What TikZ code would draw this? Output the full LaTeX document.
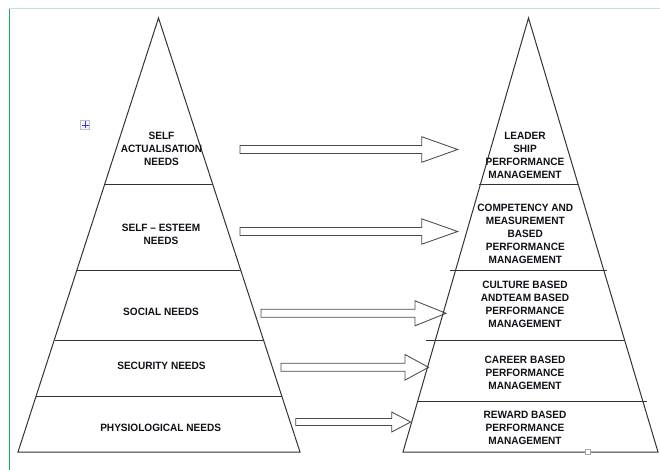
\documentclass[tikz,border=0pt]{standalone}
\usepackage{fontspec}
\setmainfont{Liberation Sans}
\newfontfamily\lblfont{Liberation Sans}[FakeStretch=0.95]
\definecolor{edgegray}{HTML}{333333}
\definecolor{arrowgray}{HTML}{4A4A4A}
\definecolor{topgreen}{HTML}{B4EBD2}
\definecolor{leftgreen}{HTML}{1FAA5C}
\definecolor{txt}{HTML}{101018}
\tikzset{
  pyr/.style={draw=edgegray, line width=1pt, line join=miter},
  divider/.style={draw=edgegray, line width=1pt},
  blockarrowstyle/.style={draw=arrowgray, line width=0.85pt, fill=white, line join=miter},
  label/.style={font=\lblfont\bfseries\fontsize{10.6}{13}\selectfont, text=txt, align=center, inner sep=0pt}
}
\newcommand\blockarrow[6]{%
  \draw[blockarrowstyle] (#1,#3-#6) -- (#2-#4,#3-#6) -- (#2-#4,#3-#5) -- (#2,#3)
    -- (#2-#4,#3+#5) -- (#2-#4,#3+#6) -- (#1,#3+#6) -- cycle;}
\begin{document}
\begin{tikzpicture}[x=1pt,y=-1pt]
\useasboundingbox[fill=white] (0,0) rectangle (660,470);
% page frame lines
\draw[topgreen, line width=1pt] (9,9) -- (660,9);
\draw[leftgreen, line width=1pt] (9,9) -- (9,470);

% arrows
\blockarrow{240}{457.7}{149.5}{36}{12.8}{4}
\blockarrow{240}{457.7}{231.5}{36}{12.7}{4}
\blockarrow{261}{446}{313.3}{31}{12.5}{4}
\blockarrow{281}{428.5}{367.3}{23.5}{12.8}{4}
\blockarrow{295.7}{410.7}{422}{19}{10}{3.5}

% left pyramid
\coordinate (LA) at (158.5,18);
\coordinate (LL) at (18,452);
\coordinate (LR) at (300,452);
\draw[pyr] (LL) -- (LA) -- (LR) -- cycle;
\draw[divider] (104.5,185) -- (213,185);
\draw[divider] (77,270.7) -- (240.5,270.7);
\draw[divider] (54.5,340) -- (263.5,340);
\draw[divider] (36,396) -- (282,396);

% right pyramid
\coordinate (RA) at (528.5,18);
\coordinate (RL) at (403,452);
\coordinate (RR) at (658,452);
\draw[pyr] (RL) -- (RA) -- (RR) -- cycle;
\draw[divider] (479,185) -- (577.5,185);
\draw[divider] (450,270.7) -- (607,270.7);
\draw[divider] (426,340) -- (625,340);
\draw[divider] (416.5,401) -- (647,401);

% left labels
\node[label] (l1) at (161.5,149) {SELF\\ACTUALISATION\\NEEDS};
\node[label] (l2) at (161,234) {SELF – ESTEEM\\NEEDS};
\node[label] (l3) at (161,312.3) {SOCIAL NEEDS};
\node[label] (l4) at (161.5,366) {SECURITY NEEDS};
\node[label] (l5) at (160.7,427.7) {PHYSIOLOGICAL NEEDS};

% right labels
\node[label] (r1) at (525,155.5) {LEADER\\SHIP\\PERFORMANCE\\MANAGEMENT};
\node[label] (r2) at (525.3,233.5) {COMPETENCY AND\\MEASUREMENT\\BASED\\PERFORMANCE\\MANAGEMENT};
\node[label] (r3) at (525,304.7) {CULTURE BASED\\ANDTEAM BASED\\PERFORMANCE\\MANAGEMENT};
\node[label] (r4) at (525,373.2) {CAREER BASED\\PERFORMANCE\\MANAGEMENT};
\node[label] (r5) at (525,427.5) {REWARD BASED\\PERFORMANCE\\MANAGEMENT};

% small handles
\node[draw=gray!70, fill=white, minimum size=5pt, inner sep=0pt, line width=0.6pt] (sq) at (588,452) {};
\node[draw=gray!50, fill=gray!8, minimum size=9pt, inner sep=0pt, line width=0.6pt] (mv) at (85,125) {};
\draw[blue!80, line width=0.9pt] (81.5,125) -- (88.5,125) (85,121.5) -- (85,128.5);
\end{tikzpicture}
\end{document}
